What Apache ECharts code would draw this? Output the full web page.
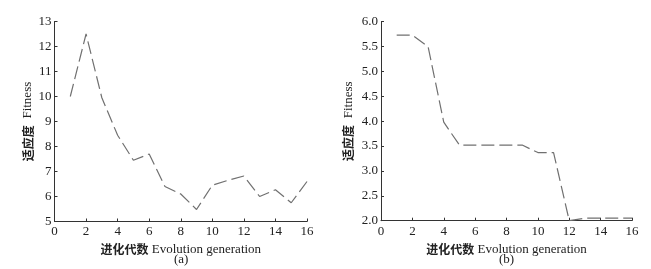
<!DOCTYPE html>
<html><head><meta charset="utf-8">
<script src="https://cdn.jsdelivr.net/npm/echarts@6/dist/echarts.min.js"></script>
<style>html,body{margin:0;padding:0;background:#fff}#c{width:651px;height:269px}</style>
</head><body><div id="c"></div>
<script>
const generations = [1,2,3,4,5,6,7,8,9,10,11,12,13,14,15,16];
const fitnessA = [10.0,12.5,9.95,8.45,7.45,7.7,6.4,6.1,5.48,6.45,6.65,6.82,6.0,6.27,5.75,6.6];
const fitnessB = [5.73,5.73,5.5,3.98,3.52,3.52,3.52,3.52,3.52,3.37,3.37,2.0,2.05,2.05,2.05,2.05];
const xTicks = {min:0, max:16, interval:2};
const yTicksA = {min:5, max:13, interval:1};
const yTicksB = {min:2, max:6, interval:0.5};
const captions = ['(a)','(b)'];

const serif = 'Liberation Serif, Times New Roman, serif';
const cjk = 'Noto Sans CJK SC';
const axisCommon = {
  axisLine:{show:true,lineStyle:{color:'#333',width:1}},
  axisTick:{show:true,inside:true,length:3,lineStyle:{color:'#333'}},
  splitLine:{show:false},
  axisLabel:{color:'#222',fontFamily:serif,fontSize:13}
};
const nameRich = {rich:{c:{fontFamily:cjk,fontWeight:'bold',fontSize:12,color:'#222'},e:{fontFamily:serif,fontSize:13,color:'#222'}}};
function xAxis(idx){
  return Object.assign({}, axisCommon, {
    type:'value', gridIndex:idx, min:xTicks.min, max:xTicks.max, interval:xTicks.interval,
    axisLabel:Object.assign({}, axisCommon.axisLabel, {margin:4}),
    name:'{c|进化代数} {e|Evolution generation}', nameLocation:'middle', nameGap:18,
    nameTextStyle:nameRich
  });
}
function yAxis(idx, t, gap, fmt){
  return Object.assign({}, axisCommon, {
    type:'value', gridIndex:idx, min:t.min, max:t.max, interval:t.interval,
    axisLabel:Object.assign({}, axisCommon.axisLabel, {margin:3, formatter:fmt}),
    name:'{c|适应度}  {e|Fitness}', nameLocation:'middle', nameGap:gap, nameRotate:90,
    nameTextStyle:nameRich
  });
}
const lineStyle = {color:'#707070',width:1.2,type:[13,5]};
const chart = echarts.init(document.getElementById('c'));
chart.setOption({
  animation:false,
  grid:[
    {left:54.5,right:344,top:21.5,bottom:47.5},
    {left:381,right:19,top:21.7,bottom:48.3}
  ],
  xAxis:[xAxis(0), xAxis(1)],
  yAxis:[
    yAxis(0, yTicksA, 20, v=>String(v)),
    yAxis(1, yTicksB, 26, v=>v.toFixed(1))
  ],
  series:[
    {type:'line',xAxisIndex:0,yAxisIndex:0,data:generations.map((g,i)=>[g,fitnessA[i]]),showSymbol:false,lineStyle},
    {type:'line',xAxisIndex:1,yAxisIndex:1,data:generations.map((g,i)=>[g,fitnessB[i]]),showSymbol:false,lineStyle}
  ],
  graphic:[
    {type:'text',left:174,top:253,style:{text:captions[0],font:'13px '+serif,fill:'#222'}},
    {type:'text',left:499,top:253,style:{text:captions[1],font:'13px '+serif,fill:'#222'}}
  ]
});
</script></body></html>
